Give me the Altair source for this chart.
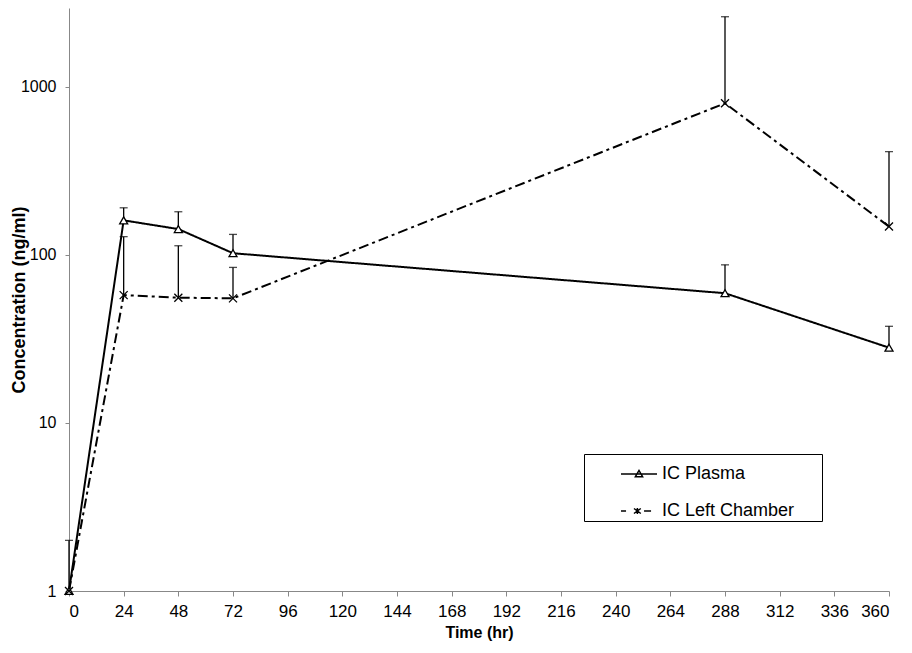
import altair as alt
import pandas as pd

# ---- data ----
time_hr = [0, 24, 48, 72, 288, 360]
series_names = ["IC Plasma", "IC Left Chamber"]
plasma_mean = [1, 160, 142, 102, 59, 28]
plasma_upper = [2, 190, 180, 132, 87, 37.5]
chamber_mean = [1, 57.5, 55.5, 55, 795, 147]
chamber_upper = [None, 128, 113, 84, 2600, 410]
x_ticks = [0, 24, 48, 72, 96, 120, 144, 168, 192, 216, 240, 264, 288, 312, 336, 360]
y_ticks = [1, 10, 100, 1000]

rows = []
for name, means, uppers in [(series_names[0], plasma_mean, plasma_upper),
                            (series_names[1], chamber_mean, chamber_upper)]:
    for t, m, u in zip(time_hr, means, uppers):
        rows.append({"time": t, "series": name, "value": m, "upper": u})
df = pd.DataFrame(rows)

FONT = "Liberation Sans"

x_enc = alt.X(
    "time:Q",
    scale=alt.Scale(domain=[0, 360], nice=False, zero=False),
    axis=alt.Axis(values=x_ticks, title="Time (hr)", labelFontSize=17, tickSize=5,
                  labelPadding=7, titleFontSize=16, titleFontWeight="bold",
                  titlePadding=5, grid=False, domainColor="#888", tickColor="#888",
                  labelColor="black", titleColor="black"),
)
y_scale = alt.Scale(type="log", domain=[1, 2930], nice=False)
y_enc = alt.Y(
    "value:Q",
    scale=y_scale,
    axis=alt.Axis(values=y_ticks, format="d", title="Concentration (ng/ml)",
                  labelFontSize=16, tickSize=4, labelPadding=9, titleFontSize=18,
                  titleFontWeight="bold", titlePadding=-8, grid=False,
                  domainColor="#888", tickColor="#888", labelColor="black",
                  titleColor="black"),
)

base = alt.Chart(df)

lines = base.mark_line(color="black", strokeWidth=2).encode(
    x=x_enc,
    y=y_enc,
    strokeDash=alt.StrokeDash(
        "series:N",
        scale=alt.Scale(domain=series_names, range=[[1, 0], [10, 4, 3, 4]]),
        legend=None,
    ),
)

err = base.transform_filter("isValid(datum.upper)").mark_rule(
    color="black", strokeWidth=1.3
).encode(x="time:Q", y="value:Q", y2="upper:Q")

caps = base.transform_filter("isValid(datum.upper)").mark_tick(
    orient="horizontal", size=8, thickness=1.3, color="black"
).encode(x="time:Q", y="upper:Q")

points = base.mark_point(
    filled=True, fill="white", stroke="black", strokeWidth=1.3, size=64, opacity=1
).encode(
    x="time:Q",
    y="value:Q",
    shape=alt.Shape(
        "series:N",
        scale=alt.Scale(domain=series_names, range=["triangle-up", "M-1,-1L1,1M-1,1L1,-1"]),
        legend=None,
    ),
)

# legend glyphs: line sample + marker
plasma_legend_path = "M-1,0H1M-0.2,0.15L0,-0.2L0.2,0.15Z"
chamber_legend_path = ("M-1,0H-0.72M-0.28,-0.14L0.1,0.14M-0.28,0.14L0.1,-0.14"
                       "M-0.09,-0.17V0.17M0.28,0H0.67")

legend_layer = base.transform_filter("false").mark_point(
    filled=True, fill="white", stroke="black", strokeWidth=1.5, opacity=1
).encode(
    x="time:Q",
    y="value:Q",
    shape=alt.Shape(
        "series:N",
        scale=alt.Scale(domain=series_names, range=[plasma_legend_path, chamber_legend_path]),
        legend=alt.Legend(
            title="\u00a0", titleOrient="left", titleFontSize=2, titlePadding=35,
            orient="none", legendX=515, legendY=446,
            symbolSize=1296, labelFontSize=18, labelFont=FONT, labelColor="black",
            labelExpr="datum.label + '\u2800\u2800'",
            strokeColor="black", fillColor="white", padding=1, rowPadding=9,
            labelLimit=300,
        ),
    ),
)

chart = alt.layer(lines, err, caps, points, legend_layer).resolve_scale(
    shape="independent"
).properties(
    width=820,
    height=583,
    padding={"left": 61, "top": 0, "right": 15, "bottom": 54},
    autosize=alt.AutoSizeParams(type="none"),
).configure(font=FONT).configure_view(stroke=None).configure_axis(
    labelFont=FONT, titleFont=FONT
)

chart.save("out.html", embed_options={"renderer": "svg", "actions": False})
